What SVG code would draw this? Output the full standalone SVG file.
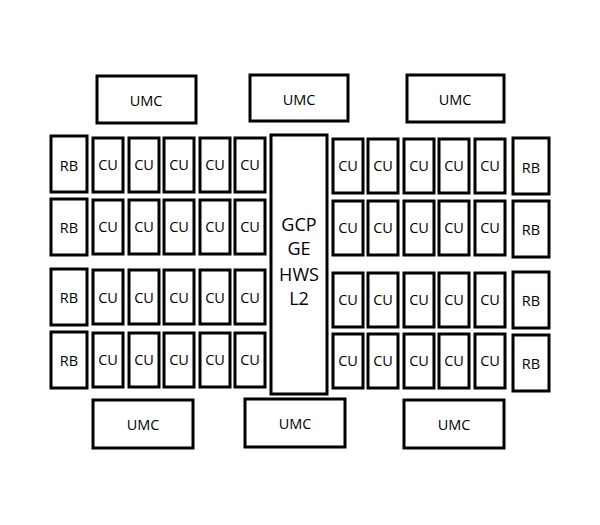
<svg xmlns="http://www.w3.org/2000/svg" width="600" height="525" viewBox="0 0 600 525">
<style>
rect{fill:#fff;stroke:#000;stroke-width:3}
text{font-family:"Open Sans","Noto Sans",sans-serif;font-size:14.5px;text-anchor:middle;dominant-baseline:central}
.big{font-size:18px}
</style>
<rect x="0" y="0" width="600" height="525" style="stroke:none"/>
<g id="umc-t1"><rect x="97" y="76" width="99" height="47"/><text x="146" y="100">UMC</text></g>
<g id="umc-t2"><rect x="250" y="75" width="98" height="46"/><text x="299" y="99">UMC</text></g>
<g id="umc-t3"><rect x="407" y="75" width="97" height="47"/><text x="455" y="99">UMC</text></g>
<g id="umc-b1"><rect x="93" y="400" width="100" height="48"/><text x="143" y="424">UMC</text></g>
<g id="umc-b2"><rect x="245" y="399" width="100" height="48"/><text x="295" y="423">UMC</text></g>
<g id="umc-b3"><rect x="404" y="400" width="100" height="48"/><text x="454" y="424">UMC</text></g>
<g id="center"><rect x="271" y="135" width="56" height="259"/>
<text class="big" x="299" y="224">GCP</text><text class="big" x="299" y="248">GE</text><text class="big" x="299" y="274">HWS</text><text class="big" x="299" y="298">L2</text></g>
<g id="rb-l1"><rect x="51" y="136" width="36" height="56"/><text x="69" y="165">RB</text></g>
<g id="rb-l2"><rect x="51" y="199" width="36" height="56"/><text x="69" y="227">RB</text></g>
<g id="rb-l3"><rect x="51" y="269" width="36" height="56"/><text x="69" y="297">RB</text></g>
<g id="rb-l4"><rect x="51" y="332" width="36" height="56"/><text x="69" y="360">RB</text></g>
<g id="rb-r1"><rect x="513" y="138" width="36" height="56"/><text x="531" y="167">RB</text></g>
<g id="rb-r2"><rect x="513" y="201" width="36" height="56"/><text x="531" y="229">RB</text></g>
<g id="rb-r3"><rect x="513" y="272" width="36" height="56"/><text x="531" y="300">RB</text></g>
<g id="rb-r4"><rect x="513" y="335" width="36" height="56"/><text x="531" y="363">RB</text></g>
<g id="cu">
<g id="cu-l1"><rect x="93" y="138" width="30" height="54"/><rect x="129" y="138" width="30" height="54"/><rect x="164" y="138" width="30" height="54"/><rect x="200" y="138" width="30" height="54"/><rect x="235" y="138" width="30" height="54"/>
<text x="108" y="164">CU</text><text x="144" y="164">CU</text><text x="179" y="164">CU</text><text x="215" y="164">CU</text><text x="250" y="164">CU</text></g>
<g id="cu-l2"><rect x="93" y="200" width="30" height="54"/><rect x="129" y="200" width="30" height="54"/><rect x="164" y="200" width="30" height="54"/><rect x="200" y="200" width="30" height="54"/><rect x="235" y="200" width="30" height="54"/>
<text x="108" y="226">CU</text><text x="144" y="226">CU</text><text x="179" y="226">CU</text><text x="215" y="226">CU</text><text x="250" y="226">CU</text></g>
<g id="cu-l3"><rect x="93" y="270" width="30" height="54"/><rect x="129" y="270" width="30" height="54"/><rect x="164" y="270" width="30" height="54"/><rect x="200" y="270" width="30" height="54"/><rect x="235" y="270" width="30" height="54"/>
<text x="108" y="297">CU</text><text x="144" y="297">CU</text><text x="179" y="297">CU</text><text x="215" y="297">CU</text><text x="250" y="297">CU</text></g>
<g id="cu-l4"><rect x="93" y="333" width="30" height="54"/><rect x="129" y="333" width="30" height="54"/><rect x="164" y="333" width="30" height="54"/><rect x="200" y="333" width="30" height="54"/><rect x="235" y="333" width="30" height="54"/>
<text x="108" y="359">CU</text><text x="144" y="359">CU</text><text x="179" y="359">CU</text><text x="215" y="359">CU</text><text x="250" y="359">CU</text></g>
<g id="cu-r1"><rect x="333" y="139" width="30" height="54"/><rect x="368" y="139" width="30" height="54"/><rect x="404" y="139" width="30" height="54"/><rect x="439" y="139" width="30" height="54"/><rect x="475" y="139" width="30" height="54"/>
<text x="348" y="165">CU</text><text x="383" y="165">CU</text><text x="419" y="165">CU</text><text x="454" y="165">CU</text><text x="490" y="165">CU</text></g>
<g id="cu-r2"><rect x="333" y="201" width="30" height="54"/><rect x="368" y="201" width="30" height="54"/><rect x="404" y="201" width="30" height="54"/><rect x="439" y="201" width="30" height="54"/><rect x="475" y="201" width="30" height="54"/>
<text x="348" y="227">CU</text><text x="383" y="227">CU</text><text x="419" y="227">CU</text><text x="454" y="227">CU</text><text x="490" y="227">CU</text></g>
<g id="cu-r3"><rect x="333" y="273" width="30" height="54"/><rect x="368" y="273" width="30" height="54"/><rect x="404" y="273" width="30" height="54"/><rect x="439" y="273" width="30" height="54"/><rect x="475" y="273" width="30" height="54"/>
<text x="348" y="299">CU</text><text x="383" y="299">CU</text><text x="419" y="299">CU</text><text x="454" y="299">CU</text><text x="490" y="299">CU</text></g>
<g id="cu-r4"><rect x="333" y="334" width="30" height="54"/><rect x="368" y="334" width="30" height="54"/><rect x="404" y="334" width="30" height="54"/><rect x="439" y="334" width="30" height="54"/><rect x="475" y="334" width="30" height="54"/>
<text x="348" y="360">CU</text><text x="383" y="360">CU</text><text x="419" y="360">CU</text><text x="454" y="360">CU</text><text x="490" y="360">CU</text></g>
</g>
<g id="connectors"/>
</svg>
